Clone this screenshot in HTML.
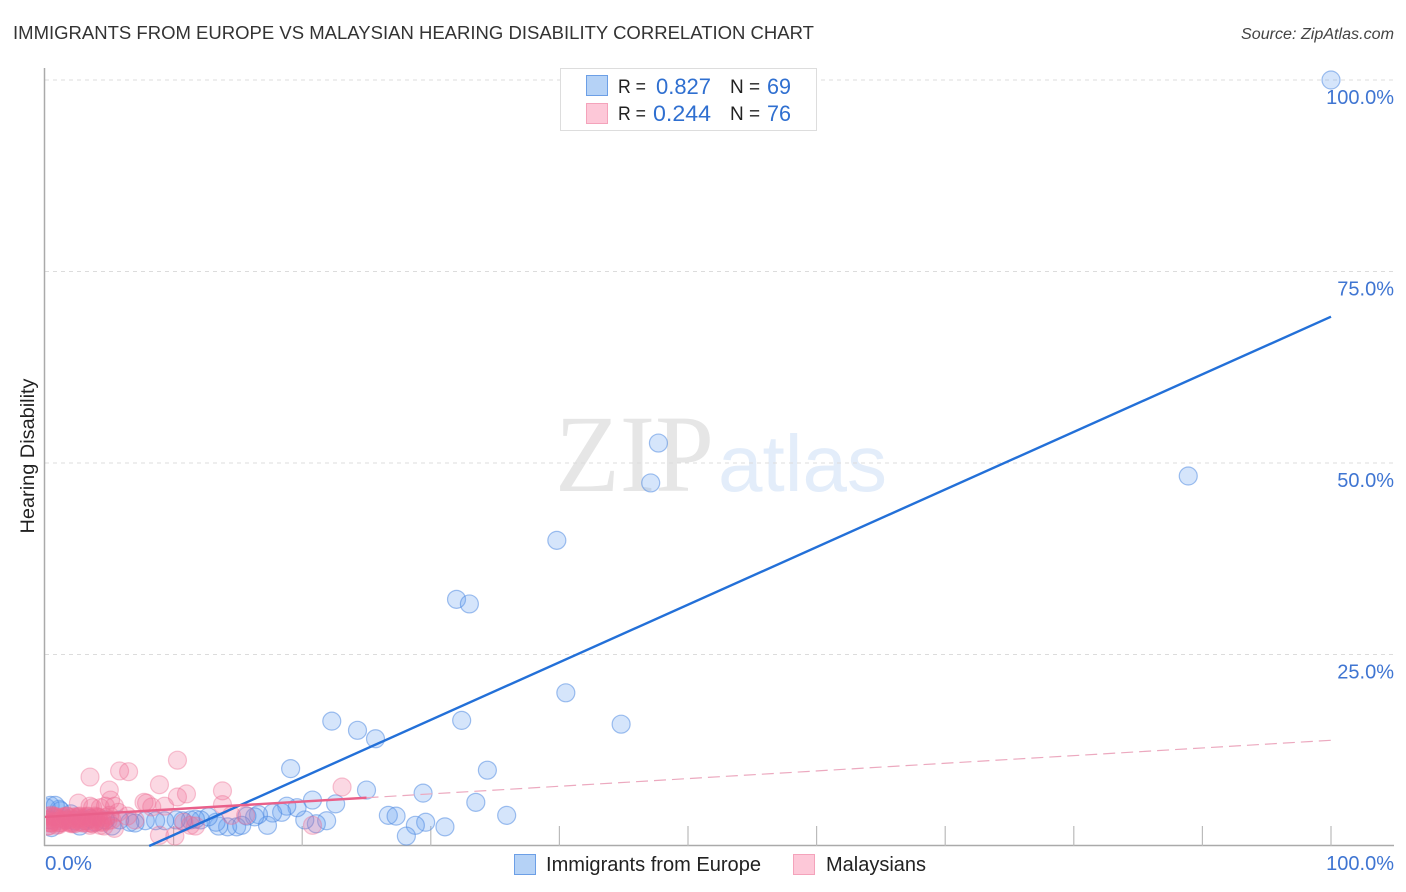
<!DOCTYPE html>
<html>
<head>
<meta charset="utf-8">
<title>Immigrants from Europe vs Malaysian Hearing Disability Correlation Chart</title>
<style>
html,body{margin:0;padding:0;background:#fff}
svg{display:block;font-family:"Liberation Sans",sans-serif}
</style>
</head>
<body>
<svg id="chart" width="1406" height="892" viewBox="0 0 1406 892" xmlns="http://www.w3.org/2000/svg">
  <defs><clipPath id="plot-clip"><rect x="46" y="60" width="1360" height="786"/></clipPath></defs>
  <rect width="1406" height="892" fill="#fff"/>
  <text x="13" y="39" font-size="18.5" fill="#333" textLength="801" lengthAdjust="spacingAndGlyphs">IMMIGRANTS FROM EUROPE VS MALAYSIAN HEARING DISABILITY CORRELATION CHART</text>
  <text x="1394" y="39" font-size="15.5" font-style="italic" fill="#444" text-anchor="end" textLength="153" lengthAdjust="spacingAndGlyphs">Source: ZipAtlas.com</text>
  <g>
    <text x="555" y="491" font-family="'Liberation Serif',serif" font-size="110" fill="#e6e6e6" textLength="159" lengthAdjust="spacingAndGlyphs">ZIP</text>
    <text x="718" y="491" font-size="80" fill="#e3edfa" textLength="169" lengthAdjust="spacingAndGlyphs">atlas</text>
  </g>
  <g id="grid"></g>
  <g id="axes"></g>
  <g id="blue-points" clip-path="url(#plot-clip)"></g>
  <g id="pink-points" clip-path="url(#plot-clip)"></g>
  <g id="trend"></g>
  <g id="labels"></g>
  <text transform="translate(34,456) rotate(-90)" font-size="19.5" fill="#222" text-anchor="middle" textLength="155" lengthAdjust="spacingAndGlyphs">Hearing Disability</text>

  <g>
    <rect x="560.5" y="68.5" width="256" height="62" fill="#fff" stroke="#ddd"/>
    <rect x="586.5" y="75.5" width="21" height="20" fill="#b5d2f6" stroke="#6c9fe6"/>
    <rect x="586.5" y="103.5" width="21" height="20" fill="#fdc8d8" stroke="#f4a3bb"/>
    <text x="618" y="93" font-size="19" fill="#222" textLength="28" lengthAdjust="spacingAndGlyphs">R =</text>
    <text x="656" y="94" font-size="22" fill="#2f6fd0" textLength="55" lengthAdjust="spacingAndGlyphs">0.827</text>
    <text x="730" y="93" font-size="19" fill="#222">N =</text>
    <text x="767" y="94" font-size="22" fill="#2f6fd0" textLength="24" lengthAdjust="spacingAndGlyphs">69</text>
    <text x="618" y="120" font-size="19" fill="#222" textLength="28" lengthAdjust="spacingAndGlyphs">R =</text>
    <text x="653" y="121" font-size="22" fill="#2f6fd0" textLength="58" lengthAdjust="spacingAndGlyphs">0.244</text>
    <text x="730" y="120" font-size="19" fill="#222">N =</text>
    <text x="767" y="121" font-size="22" fill="#2f6fd0" textLength="24" lengthAdjust="spacingAndGlyphs">76</text>
  </g>

  <g>
    <rect x="514.5" y="854.5" width="21" height="20" fill="#b5d2f6" stroke="#6c9fe6"/>
    <text x="546" y="871" font-size="20" fill="#222" textLength="215" lengthAdjust="spacingAndGlyphs">Immigrants from Europe</text>
    <rect x="793.5" y="854.5" width="21" height="20" fill="#fdc8d8" stroke="#f4a3bb"/>
    <text x="826" y="871" font-size="20" fill="#222" textLength="100" lengthAdjust="spacingAndGlyphs">Malaysians</text>
  </g>
</svg>
<script>
const xTickValues = [0,10,20,30,40,50,60,70,80,90,100];
const yGridValues = [25,50,75,100];
const yTickLabels = ["25.0%","50.0%","75.0%","100.0%"];
const xEdgeLabels = ["0.0%","100.0%"];

const blueX = [100,88.9,47.7,47.1,39.8,32.0,33.0,40.5,44.8,32.4,22.3,24.3,25.7,34.4,19.1,29.4,25.0,33.5,20.8,22.6,35.9,26.7,27.3,29.6,28.8,31.1,28.1,21.9,21.1,20.2,19.6,18.8,18.4,17.7,17.3,16.6,16.3,15.7,14.9,14.2,15.3,13.5,13.3,12.7,12.1,11.7,11.3,10.7,10.2,9.3,8.6,7.8,7.0,6.6,5.8,5.2,4.7,3.9,3.1,2.3,1.6,1.1,0.4,0.4,0.5,1.2,2.0,2.7,3.5,0.1,0.8];
const blueY = [100,48.3,52.6,47.4,39.9,32.2,31.6,20.0,15.9,16.4,16.3,15.1,14.0,9.9,10.1,6.9,7.3,5.7,6.0,5.5,4.0,4.0,3.9,3.1,2.7,2.5,1.3,3.3,2.9,3.4,5.0,5.2,4.4,4.3,2.7,4.1,3.8,3.9,2.5,2.5,2.7,2.6,3.1,3.8,3.4,3.5,3.4,3.3,3.4,3.3,3.3,3.3,3.0,3.1,3.4,2.6,3.4,3.1,3.3,3.3,3.4,4.8,3.4,5.3,2.4,4.6,4.2,2.6,3.6,5.0,5.3];

const pinkX = [10.3,5.8,6.5,3.5,8.9,11.0,10.3,5.0,13.8,23.1,5.1,7.7,7.9,8.3,9.3,2.6,3.5,3.7,4.3,4.7,5.4,5.7,13.8,14.5,10.1,8.9,5.4,4.3,11.3,11.7,10.8,20.8,15.6,0.2,0.4,0.6,0.8,1.0,1.2,1.4,1.6,1.8,2.0,2.2,2.4,2.6,2.8,3.0,3.2,3.4,3.6,3.8,4.0,4.2,4.4,0.3,0.7,1.1,1.5,1.9,2.3,2.7,3.1,3.5,3.9,4.6,5.0,0.5,0.9,1.3,1.7,2.1,2.5,6.4,7.0,0.2,0.1,0.5,0.9,1.3,1.7,2.1,2.5,2.9,3.3,3.7,4.1,4.5,0.3,0.7,1.1,1.5,1.9,2.3,2.7,3.1,3.5,3.9,4.3,4.7,4.9,5.2];
const pinkY = [11.2,9.8,9.7,9.0,8.0,6.8,6.4,7.3,7.2,7.7,6.0,5.7,5.6,5.1,5.2,5.6,5.2,5.0,5.0,5.2,5.2,4.4,5.4,4.0,1.3,1.4,2.3,2.7,2.7,2.6,3.1,2.7,4.0,3.4,3.0,3.8,3.2,3.6,3.0,3.8,3.4,3.2,3.7,3.1,3.5,3.8,3.2,3.6,3.3,3.8,3.0,3.5,3.2,3.7,3.3,2.6,3.9,2.8,3.6,3.4,2.9,3.9,3.0,2.7,3.9,2.6,4.0,4.0,2.7,3.3,3.9,3.0,3.6,3.9,3.4,2.6,3.9,3.0,3.8,3.1,3.9,2.9,3.8,3.0,3.9,2.9,3.8,3.1,3.1,3.7,3.0,3.8,3.0,3.8,3.1,3.8,3.0,3.7,3.1,3.7,3.3,3.4];

const blueTrendX = [8.1,100];
const blueTrendY = [0,69.1];
const pinkSolidX = [0,25];
const pinkSolidY = [3.8,6.3];
const pinkDashX = [25,100];
const pinkDashY = [6.3,13.8];

const NS = "http://www.w3.org/2000/svg";
function sx(v){ return 45 + v * 12.86; }
function sy(v){ return 846 - v * 7.66; }
function mk(tag, parent, attrs){
  const el = document.createElementNS(NS, tag);
  for (const k in attrs) el.setAttribute(k, attrs[k]);
  parent.appendChild(el);
  return el;
}
const grid = document.getElementById('grid');
const axes = document.getElementById('axes');
const labels = document.getElementById('labels');
const bluePts = document.getElementById('blue-points');
const pinkPts = document.getElementById('pink-points');
const trend = document.getElementById('trend');

yGridValues.forEach((v) => {
  const el = mk('line', grid, {x1:45, x2:1394, y1:sy(v), y2:sy(v), stroke:'#dcdcdc', 'stroke-width':1, 'stroke-dasharray':'4 4'});
  
  
});

const yAxis = mk('line', axes, {x1:44.5, x2:44.5, y1:68, y2:846, stroke:'#aaa', 'stroke-width':1.5});


const xAxis = mk('line', axes, {x1:44, x2:1394, y1:845.5, y2:845.5, stroke:'#aaa', 'stroke-width':1.5});


xTickValues.forEach((v) => {
  if (v === 0) return;
  const t = mk('line', axes, {x1:sx(v), x2:sx(v), y1:826, y2:846, stroke:'#bbb', 'stroke-width':1.2});
  
  
});

blueX.forEach((v, i) => {
  const c = mk('circle', bluePts, {cx:sx(v), cy:sy(blueY[i]), r:9, fill:'#659ff0', 'fill-opacity':0.27, stroke:'#4583e0', 'stroke-opacity':0.5, 'stroke-width':1.2});
  
  
});
pinkX.forEach((v, i) => {
  const c = mk('circle', pinkPts, {cx:sx(v), cy:sy(pinkY[i]), r:9, fill:'#f06a92', 'fill-opacity':0.26, stroke:'#ee6f94', 'stroke-opacity':0.4, 'stroke-width':1.2});
  
  
});

const tb = mk('line', trend, {x1:sx(blueTrendX[0]), y1:sy(blueTrendY[0]), x2:sx(blueTrendX[1]), y2:sy(blueTrendY[1]), stroke:'#2370d8', 'stroke-width':2.4});


const tp = mk('line', trend, {x1:sx(pinkSolidX[0]), y1:sy(pinkSolidY[0]), x2:sx(pinkSolidX[1]), y2:sy(pinkSolidY[1]), stroke:'#e9608a', 'stroke-width':2.4});


const td = mk('line', trend, {x1:sx(pinkDashX[0]), y1:sy(pinkDashY[0]), x2:sx(pinkDashX[1]), y2:sy(pinkDashY[1]), stroke:'#eca9bf', 'stroke-width':1.2, 'stroke-dasharray':'12 6'});



yGridValues.forEach((v, i) => {
  const t = mk('text', labels, {x:1394, y:sy(v) + 24, 'font-size':20, fill:'#3f75d2', 'text-anchor':'end'});
  t.textContent = yTickLabels[i];
  
  
});
const xl0 = mk('text', labels, {x:45, y:870, 'font-size':20, fill:'#3f75d2', textLength:47, lengthAdjust:'spacingAndGlyphs'});
xl0.textContent = xEdgeLabels[0];


const xl1 = mk('text', labels, {x:1394, y:870, 'font-size':20, fill:'#3f75d2', 'text-anchor':'end'});
xl1.textContent = xEdgeLabels[1];


</script>
</body>
</html>
